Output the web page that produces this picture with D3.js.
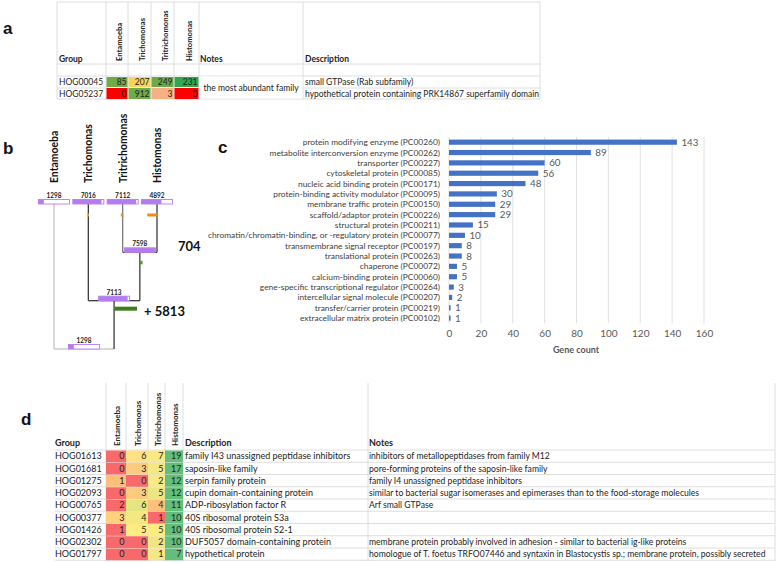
<!DOCTYPE html>
<html><head><meta charset="utf-8">
<script src="https://cdn.jsdelivr.net/npm/d3@7"></script>
<style>
body{margin:0;background:#fff;}
svg{display:block;font-family:Lato,"Open Sans",sans-serif;}
</style></head>
<body>
<svg id="chart" width="778" height="563"></svg>
<script>
// ---------------- DATA ----------------
const species = ["Entamoeba","Trichomonas","Tritrichomonas","Histomonas"];

// panel a
const aGroups = ["HOG00045","HOG05237"];
const aCounts = [[85,207,249,231],[0,912,3,0]];
const aDescriptions = ["small GTPase (Rab subfamily)","hypothetical protein containing PRK14867 superfamily domain"];
const aNote = "the most abundant family";
const aFills = [["#6fab48","#fbd35c","#6aaa48","#2fa84f"],["#fe0000","#6fab48","#f4b183","#fe0000"]];

// panel b (tree)
const leafCounts = [1298,7016,7112,4892];
const innerNames = ["Tritrichomonas+Histomonas","Trichomonas+rest","root"];
const innerCounts = [7598,7113,1298];
const leafLosses = [0,250,600,2600];
const innerGains = [704,5813,0];
const maxFamilies = 7598;

// panel c
const pcCategories = [
 "protein modifying enzyme (PC00260)",
 "metabolite interconversion enzyme (PC00262)",
 "transporter (PC00227)",
 "cytoskeletal protein (PC00085)",
 "nucleic acid binding protein (PC00171)",
 "protein-binding activity modulator (PC00095)",
 "membrane traffic protein (PC00150)",
 "scaffold/adaptor protein (PC00226)",
 "structural protein (PC00211)",
 "chromatin/chromatin-binding, or -regulatory protein (PC00077)",
 "transmembrane signal receptor (PC00197)",
 "translational protein (PC00263)",
 "chaperone (PC00072)",
 "calcium-binding protein (PC00060)",
 "gene-specific transcriptional regulator (PC00264)",
 "intercellular signal molecule (PC00207)",
 "transfer/carrier protein (PC00219)",
 "extracellular matrix protein (PC00102)"];
const pcCounts = [143,89,60,56,48,30,29,29,15,10,8,8,5,5,3,2,1,1];
const pcTicks = [0,20,40,60,80,100,120,140,160];

// panel d
const dGroups = ["HOG01613","HOG01681","HOG01275","HOG02093","HOG00765","HOG00377","HOG01426","HOG02302","HOG01797"];
const dCounts = [[0,6,7,19],[0,3,5,17],[1,0,2,12],[0,3,5,12],[2,6,4,11],[3,4,1,10],[1,5,5,10],[0,0,2,10],[0,0,1,7]];
const dDescriptions = ["family I43 unassigned peptidase inhibitors","saposin-like family","serpin family protein","cupin domain-containing protein","ADP-ribosylation factor R","40S ribosomal protein S3a","40S ribosomal protein S2-1","DUF5057 domain-containing protein","hypothetical protein"];
const dNotes = ["inhibitors of metallopeptidases from family M12","pore-forming proteins of the saposin-like family","family I4 unassigned peptidase inhibitors","similar to bacterial sugar isomerases and epimerases than to the food-storage molecules","Arf small GTPase","","","membrane protein probably involved in adhesion - similar to bacterial ig-like proteins","homologue of T. foetus TRFO07446 and syntaxin in Blastocystis sp.; membrane protein, possibly secreted"];

// ---------------- DRAW ----------------
const svg = d3.select("#chart");
const GRID = "#d6d6d6", TXT = "#222";

function panelLabel(t,x,y){
  svg.append("text").attr("x",x).attr("y",y).text(t)
   .attr("font-family","'Liberation Sans',Arial,sans-serif").attr("font-weight","bold").attr("font-size",17).attr("fill","#111");
}
panelLabel("a",3,34); panelLabel("b",3,154); panelLabel("c",218,153); panelLabel("d",21,425);

// ---- panel a ----
(function(){
  const g = svg.append("g");
  const colEdges = [57,106,128,151,174,199,303,540];
  const rowEdges = [2,64,76,88,99];
  const cellTop = [77,88], cellBot = [87,99];
  rowEdges.forEach(y=>g.append("line").attr("x1",57).attr("x2",540).attr("y1",y).attr("y2",y).attr("stroke",GRID).attr("stroke-width",0.8));
  colEdges.forEach(x=>g.append("line").attr("x1",x).attr("x2",x).attr("y1",2).attr("y2",99).attr("stroke",GRID).attr("stroke-width",0.8));
  g.append("text").attr("x",59).attr("y",62).text("Group").attr("font-weight","bold").attr("font-size",8.5).attr("fill",TXT);
  g.append("text").attr("x",200).attr("y",62).text("Notes").attr("font-weight","bold").attr("font-size",8.5).attr("fill",TXT);
  g.append("text").attr("x",305).attr("y",62).text("Description").attr("font-weight","bold").attr("font-size",8.5).attr("fill",TXT);
  species.forEach((s,i)=>{
    const x = colEdges[i+1]+ (colEdges[i+2]-colEdges[i+1])/2 + 5;
    g.append("text").attr("transform",`translate(${x},61) rotate(-90)`).text(s)
      .attr("font-weight","bold").attr("font-size",7.6).attr("fill",TXT);
  });
  aGroups.forEach((grp,r)=>{
    const yb = cellBot[r]-2.2;
    g.append("text").attr("x",59).attr("y",yb).text(grp).attr("font-size",8.5).attr("fill",TXT);
    aCounts[r].forEach((v,c)=>{
      const x0 = colEdges[c+1], x1 = colEdges[c+2];
      g.append("rect").attr("x",x0+0.5).attr("y",cellTop[r]).attr("width",x1-x0-1).attr("height",cellBot[r]-cellTop[r]).attr("fill",aFills[r][c]);
      g.append("text").attr("x",x1-1.5).attr("y",yb).attr("text-anchor","end").text(v).attr("font-size",8.5).attr("fill",TXT);
    });
    g.append("text").attr("x",305).attr("y",yb).text(aDescriptions[r]).attr("font-size",8.5).attr("fill",TXT);
  });
  g.append("rect").attr("x",199.5).attr("y",76.5).attr("width",103).attr("height",22).attr("fill","#fff");
  g.append("text").attr("x",251).attr("y",91).attr("text-anchor","middle").text(aNote).attr("font-size",8.5).attr("fill",TXT);
})();

// ---- panel b (tree) ----
(function(){
  const g = svg.append("g");
  const xLeaf = d3.scalePoint().domain(species).range([54,157]);
  const yLevel = d3.scaleLinear().domain([0,3]).range([204,349]);
  const boxW = 31, boxH = 4.5;
  const lossScale = d3.scaleLinear().domain([0,5813]).range([0,23]);

  const treeData = {name:innerNames[2], count:innerCounts[2], gain:innerGains[2], children:[
     {name:species[0], count:leafCounts[0], loss:leafLosses[0]},
     {name:innerNames[1], count:innerCounts[1], gain:innerGains[1], children:[
        {name:species[1], count:leafCounts[1], loss:leafLosses[1]},
        {name:innerNames[0], count:innerCounts[0], gain:innerGains[0], children:[
           {name:species[2], count:leafCounts[2], loss:leafLosses[2]},
           {name:species[3], count:leafCounts[3], loss:leafLosses[3]}]}]}]};
  const root = d3.hierarchy(treeData);
  root.eachAfter(n=>{
    if(!n.children){ n.px = xLeaf(n.data.name); n.lev = 0; }
    else { n.px = d3.mean(n.children,c=>c.px); n.lev = d3.max(n.children,c=>c.lev)+1; }
    n.py = yLevel(n.lev);
  });
  const isGray = n => n.data.name===species[0] || n.depth===0;
  root.descendants().forEach(n=>{
    if(n.parent){
      const col = n.data.name===species[0] ? "#c4c4c4" : (n.data.name===species[2] ? "#7a7a7a" : "#3c3c3c");
      g.append("line").attr("x1",n.px).attr("x2",n.px).attr("y1",n.py).attr("y2",n.parent.py).attr("stroke",col).attr("stroke-width",1.3);
    }
    if(n.children){
      const a = n.children[0], b = n.children[1];
      g.append("line").attr("x1",a.px).attr("x2",n.px).attr("y1",n.py).attr("y2",n.py).attr("stroke",isGray(n)?"#c4c4c4":"#3c3c3c").attr("stroke-width",1.3);
      g.append("line").attr("x1",n.px).attr("x2",b.px).attr("y1",n.py).attr("y2",n.py).attr("stroke",isGray(n)?"#c4c4c4":"#3c3c3c").attr("stroke-width",1.3);
    }
  });
  root.leaves().forEach(n=>{
    if(n.data.loss>0){
      const w = Math.max(1.2,lossScale(n.data.loss));
      g.append("rect").attr("x",n.px-w+0.6).attr("y",yLevel(0)+9.5).attr("width",w).attr("height",3).attr("fill","#f08a1c");
    }
  });
  root.descendants().filter(n=>n.children && n.data.gain>0).forEach(n=>{
    const w = Math.max(2,lossScale(n.data.gain));
    const big = n.data.gain>2000;
    g.append("rect").attr("x",n.px).attr("y",n.py+(big?6:8.5)).attr("width",w).attr("height",big?4:3.5).attr("fill",big?"#3f7f1a":"#5b9a2a");
    if(big){
      g.append("text").attr("x",n.px+30).attr("y",n.py+15).text("+ "+n.data.gain).attr("font-weight","bold").attr("font-size",13).attr("fill","#111");
    } else {
      g.append("text").attr("x",xLeaf(species[3])+21).attr("y",n.py-1).text(n.data.gain).attr("font-weight","bold").attr("font-size",13).attr("fill","#111");
    }
  });
  const fillScale = d3.scaleLinear().domain([0,maxFamilies]).range([0,boxW]);
  root.descendants().forEach(n=>{
    const top = n.py-boxH;
    const x0 = n.px-boxW/2;
    g.append("rect").attr("x",x0).attr("y",top).attr("width",boxW).attr("height",boxH).attr("fill","#fff").attr("stroke","#b57cf0").attr("stroke-width",0.9);
    g.append("rect").attr("x",x0).attr("y",top).attr("width",fillScale(n.data.count)).attr("height",boxH).attr("fill","#b57cf0");
    g.append("text").attr("x",n.px).attr("y",top-1.5).attr("text-anchor","middle").text(n.data.count)
      .attr("font-size",6.5).attr("font-weight","bold").attr("fill","#222");
  });
  species.forEach(s=>{
    g.append("text").attr("transform",`translate(${xLeaf(s)+4},183) rotate(-90)`).text(s)
      .attr("font-weight","bold").attr("font-size",10.4).attr("fill","#111");
  });
})();

// ---- panel c ----
(function(){
  const g = svg.append("g");
  const x = d3.scaleLinear().domain([0,160]).range([449,704]);
  const y = d3.scaleBand().domain(pcCategories).range([137,323.3]).paddingInner(0.5).paddingOuter(0.25);
  pcTicks.forEach(t=>{
    g.append("line").attr("x1",x(t)).attr("x2",x(t)).attr("y1",137).attr("y2",323.3).attr("stroke","#d9d9d9").attr("stroke-width",0.8);
  });
  g.selectAll(".bar").data(pcCounts).enter().append("rect")
    .attr("x",x(0)).attr("y",(d,i)=>y(pcCategories[i])).attr("width",d=>x(d)-x(0)).attr("height",y.bandwidth()).attr("fill","#4472c4");
  g.selectAll(".val").data(pcCounts).enter().append("text")
    .attr("x",d=>x(d)+4.5).attr("y",(d,i)=>y(pcCategories[i])+y.bandwidth()/2+3.5).text(d=>d)
    .attr("font-size",9.8).attr("fill","#595959");
  g.selectAll(".cat").data(pcCategories).enter().append("text")
    .attr("x",440).attr("y",d=>y(d)+y.bandwidth()/2+3).attr("text-anchor","end").text(d=>d)
    .attr("font-size",8.4).attr("fill","#404040");
  const ax = g.append("g").attr("transform","translate(0,323.3)").call(d3.axisBottom(x).tickValues(pcTicks).tickSize(0).tickPadding(7));
  ax.select(".domain").remove();
  ax.selectAll("text").attr("font-family","Lato,sans-serif").attr("font-size",10).attr("fill","#595959");
  g.append("text").attr("x",576).attr("y",353).attr("text-anchor","middle").text("Gene count").attr("font-weight","bold").attr("font-size",9).attr("fill","#595959");
})();

// ---- panel d ----
(function(){
  const g = svg.append("g");
  const colEdges = [55,106,126,148,165,183,368,775];
  const y = d3.scaleBand().domain(dGroups).range([450,560.25]).padding(0);
  [450].concat(dGroups.map(d=>y(d)+y.bandwidth())).forEach(v=>
    g.append("line").attr("x1",55).attr("x2",775).attr("y1",v).attr("y2",v).attr("stroke",GRID).attr("stroke-width",0.8));
  colEdges.slice(1).forEach(v=>
    g.append("line").attr("x1",v).attr("x2",v).attr("y1",383).attr("y2",561).attr("stroke",GRID).attr("stroke-width",0.8));
  g.append("text").attr("x",55).attr("y",446).text("Group").attr("font-weight","bold").attr("font-size",9).attr("fill",TXT);
  g.append("text").attr("x",185).attr("y",446).text("Description").attr("font-weight","bold").attr("font-size",9).attr("fill",TXT);
  g.append("text").attr("x",369).attr("y",446).text("Notes").attr("font-weight","bold").attr("font-size",9).attr("fill",TXT);
  species.forEach((s,i)=>{
    const xc = (colEdges[i+1]+colEdges[i+2])/2 + 4;
    g.append("text").attr("transform",`translate(${xc},446) rotate(-90)`).text(s)
      .attr("font-weight","bold").attr("font-size",8).attr("fill",TXT);
  });
  dGroups.forEach((grp,r)=>{
    const top = y(grp), yb = top + y.bandwidth()/2 + 3.2;
    const vals = dCounts[r];
    const srt = vals.slice().sort(d3.ascending);
    const mid = d3.quantile(srt,0.5);
    const col = d3.scaleLinear().domain([d3.min(vals),mid,d3.max(vals)]).range(["#f8696b","#ffeb84","#63be7b"]);
    g.append("text").attr("x",55).attr("y",yb).text(grp).attr("font-size",9).attr("fill",TXT);
    vals.forEach((v,c)=>{
      const x0 = colEdges[c+1], x1 = colEdges[c+2];
      g.append("rect").attr("x",x0).attr("y",top+0.5).attr("width",x1-x0).attr("height",y.bandwidth()-0.5).attr("fill",col(v));
      g.append("text").attr("x",x1-1.5).attr("y",yb).attr("text-anchor","end").text(v).attr("font-size",9).attr("fill",TXT);
    });
    g.append("text").attr("x",185).attr("y",yb).text(dDescriptions[r]).attr("font-size",9).attr("fill",TXT);
    g.append("text").attr("x",369).attr("y",yb).text(dNotes[r]).attr("font-size",8.6).attr("fill",TXT);
  });
})();
</script>
</body></html>
